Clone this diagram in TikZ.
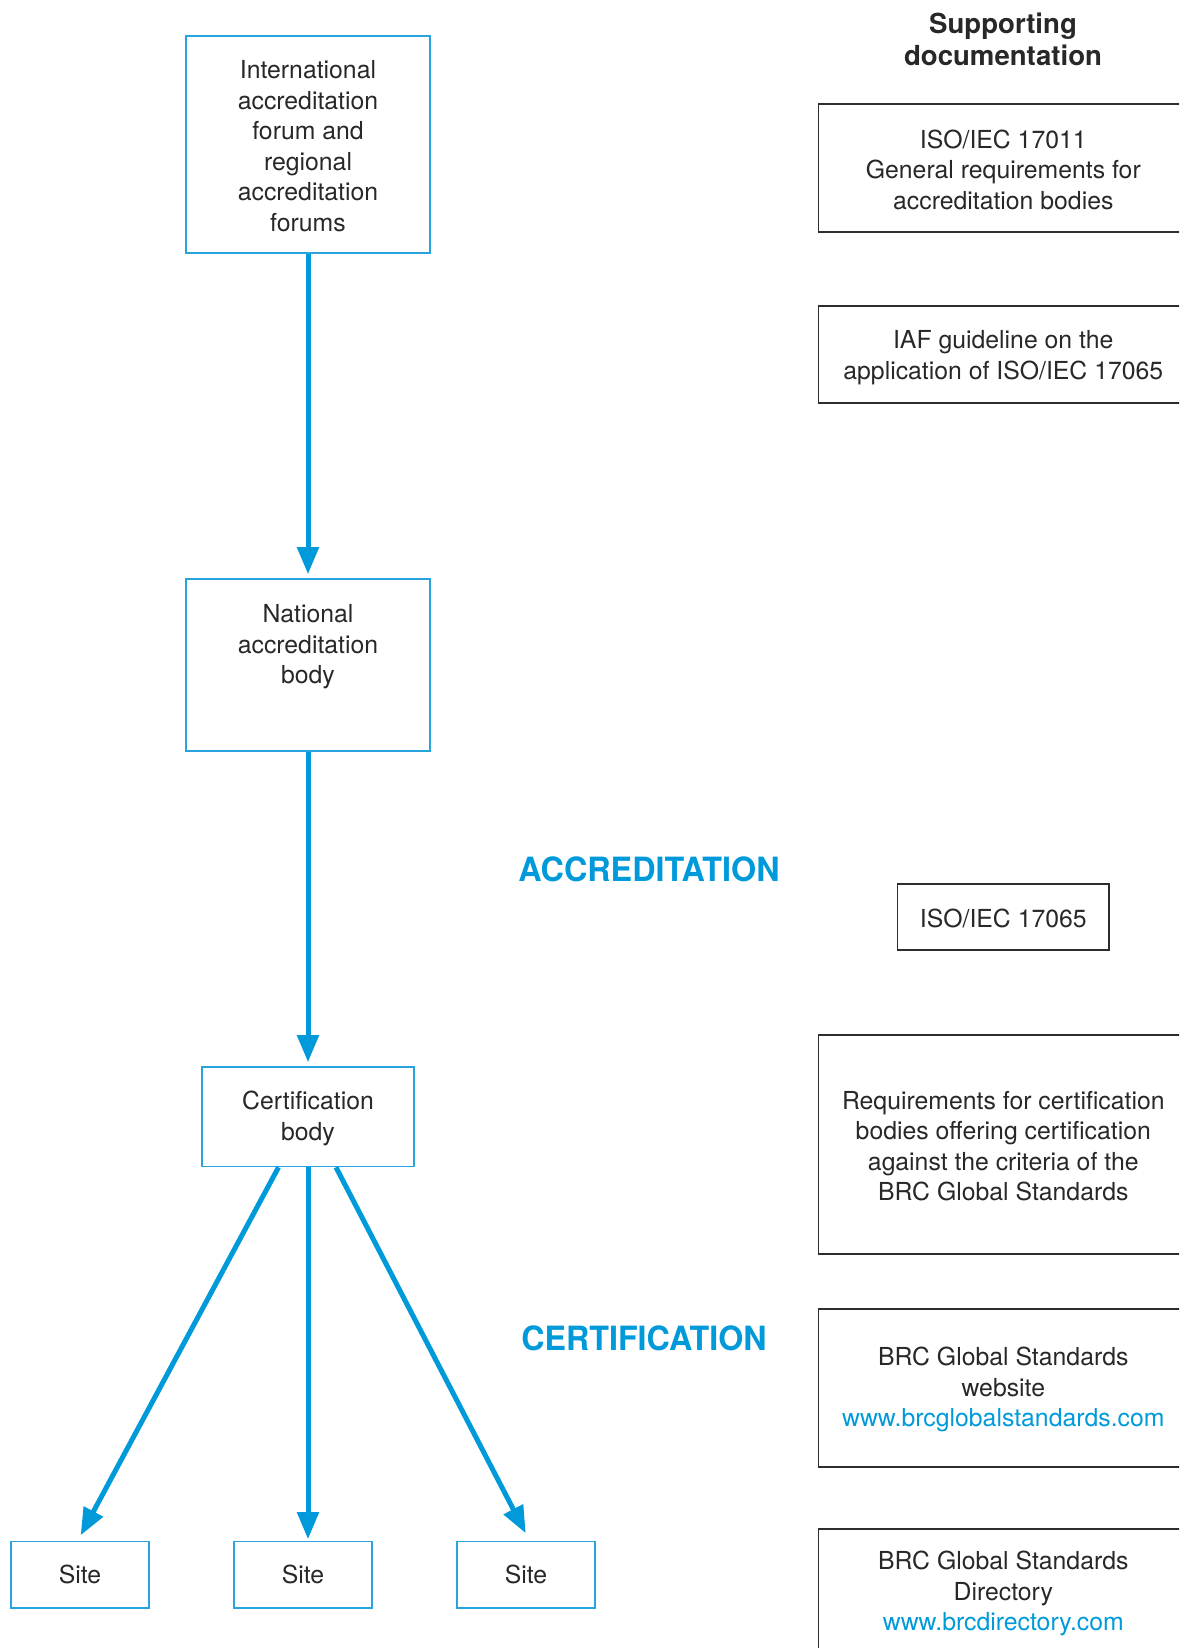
\documentclass[tikz,border=0pt]{standalone}
\usepackage{fontspec}
\setmainfont{TeX Gyre Heros}
\usetikzlibrary{arrows.meta,calc}
\definecolor{brcblue}{RGB}{0,154,218}
\definecolor{boxblue}{RGB}{40,165,222}
\definecolor{txt}{RGB}{40,40,40}
\definecolor{docline}{RGB}{45,45,45}
\begin{document}
\begin{tikzpicture}[x=0.5pt,y=-0.5pt,
  bluebox/.style={draw=boxblue, line width=0.8pt, inner sep=0pt},
  docbox/.style={draw=docline, line width=0.75pt, inner sep=0pt},
  body/.style={text=txt, font=\fontsize{12.4}{15.3}\selectfont, align=center, inner sep=0pt},
  bodyshift/.style={yshift=-0.8pt},
  headtext/.style={text=txt, font=\bfseries\fontsize{13.8}{15.9}\selectfont, align=center, inner sep=0pt},
  bigblue/.style={text=brcblue, font=\bfseries\fontsize{16.7}{18}\selectfont, inner sep=0pt},
  flow/.style={draw=brcblue, line width=2.5pt, -{Triangle[width=10.5pt,length=13.5pt]}}]
\useasboundingbox (0,0) rectangle (1179,1648);
\begin{scope}
\clip (0,0) rectangle (1179,1648);

% left column boxes
\node[bluebox, minimum width=122pt, minimum height=108.5pt] (iaf) at (308,144.5) {};
\node[body, bodyshift] (iaft) at (iaf.center) {International\\accreditation\\forum and\\regional\\accreditation\\forums};

\node[bluebox, minimum width=122pt, minimum height=86pt] (nab) at (308,665) {};
\node[body, anchor=north] (nabt) at (308,604) {National\\accreditation\\body};

\node[bluebox, minimum width=106pt, minimum height=49.75pt] (cb) at (308,1116.75) {};
\node[body, bodyshift] (cbt) at (cb.center) {Certification\\body};

\node[bluebox, minimum width=69.2pt, minimum height=33.1pt, body] (site1) at (80,1574.6) {Site};
\node[bluebox, minimum width=69.2pt, minimum height=33.1pt, body] (site2) at (303,1574.6) {Site};
\node[bluebox, minimum width=69.2pt, minimum height=33.1pt, body] (site3) at (526,1574.6) {Site};

% connectors
\draw[flow] (iaf.south) -- ($(nab.north)+(0,-4)$);
\draw[flow] (nab.south) -- ($(cb.north)+(0,-4)$);
\draw[flow] ($(cb.south)+(-29.5,0)$) -- ($(site1.north)+(0.7,-5.5)$);
\draw[flow] (cb.south) -- ($(cb.south |- site2.north)+(0,-1.5)$);
\draw[flow] ($(cb.south)+(28,0)$) -- ($(site3.north)+(-0.3,-7.5)$);

% labels
\node[bigblue] (accr) at (649,869) {\scalebox{0.968}[1]{ACCREDITATION}};
\node[bigblue] (cert) at (644,1338) {\scalebox{0.965}[1]{CERTIFICATION}};

% supporting documentation
\node[headtext, anchor=north] (hdr) at (1003,13) {Supporting\\documentation};

\node[docbox, minimum width=184.7pt, minimum height=64pt] (d1) at (1003.3,168) {};
\node[body, bodyshift] (d1t) at (d1.center) {ISO/IEC 17011\\General requirements for\\accreditation bodies};

\node[docbox, minimum width=184.7pt, minimum height=48.5pt] (d2) at (1003.3,354.5) {};
\node[body, bodyshift, yshift=-0.8pt] (d2t) at (d2.center) {IAF guideline on the\\application of ISO/IEC 17065};

\node[docbox, minimum width=105.75pt, minimum height=33pt] (d3) at (1003.3,917) {};
\node[body, bodyshift] (d3t) at (d3.center) {ISO/IEC 17065};

\node[docbox, minimum width=184.7pt, minimum height=109.5pt] (d4) at (1003.3,1144.5) {};
\node[body, bodyshift] (d4t) at (d4.center) {Requirements for certification\\bodies offering certification\\against the criteria of the\\BRC Global Standards};

\node[docbox, minimum width=184.7pt, minimum height=79pt] (d5) at (1003.3,1388) {};
\node[body, bodyshift] (d5t) at (d5.center) {BRC Global Standards\\website\\\textcolor{brcblue}{www.brcglobalstandards.com}};

\node[docbox, minimum width=184.7pt, minimum height=63pt] (d6) at (1003.3,1592) {};
\node[body, bodyshift] (d6t) at (d6.center) {BRC Global Standards\\Directory\\\textcolor{brcblue}{www.brcdirectory.com}};
\end{scope}
\end{tikzpicture}
\end{document}
